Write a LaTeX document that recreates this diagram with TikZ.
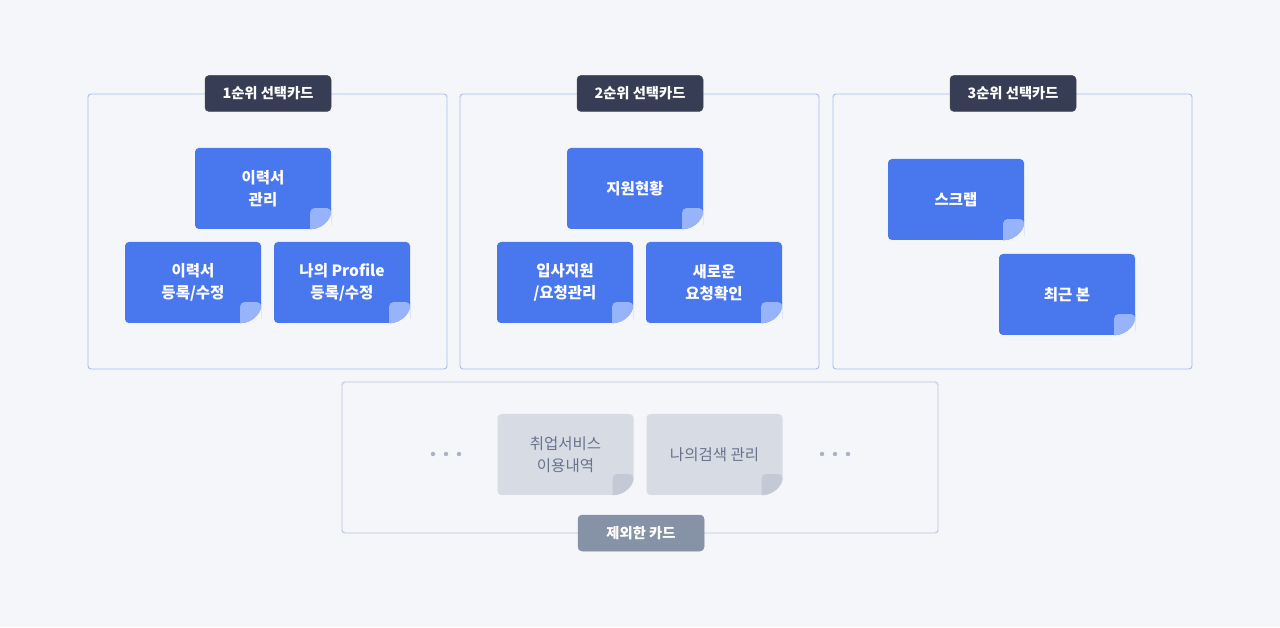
\documentclass[tikz,border=0pt]{standalone}
\usepackage{fontspec}
\setmainfont{Noto Sans CJK KR}
\usetikzlibrary{calc}
\definecolor{bgc}{HTML}{F4F6FA}
\definecolor{lineblue}{HTML}{A6BDF0}
\definecolor{linegray}{HTML}{B9C3D8}
\definecolor{tagdark}{HTML}{363D55}
\definecolor{taggray}{HTML}{8692A6}
\definecolor{cardblue}{HTML}{4877EE}
\definecolor{foldblue}{HTML}{97B4FB}
\definecolor{cardgray}{HTML}{D6DBE4}
\definecolor{foldgray}{HTML}{C4CAD5}
\definecolor{textgray}{HTML}{68738B}
\definecolor{dotgray}{HTML}{A9B3C5}
\tikzset{
  panel/.style={draw=lineblue,line width=0.9pt,rounded corners=3pt},
  tag/.style={fill=tagdark,draw=black!70,line width=0.5pt,rounded corners=4pt,text=white,
    minimum width=126pt,minimum height=36pt,inner sep=0pt,font=\fontsize{14.3}{17}\selectfont\bfseries},
  card/.style={fill=cardblue,rounded corners=4pt,text=white,align=center,
    minimum width=136pt,minimum height=81pt,inner sep=0pt,font=\fontsize{15.5}{22}\selectfont\bfseries},
  graycard/.style={card,fill=cardgray,text=textgray,font=\fontsize{15.5}{22}\selectfont},
  dot/.style={fill=dotgray,circle,inner sep=0pt,minimum size=4.5pt}
}
% folded corner of a card: node name, card colour, fold colour
\newcommand{\fold}[3]{%
  \fill[bgc] ($(#1.south east)+(-21,0)$) rectangle ($(#1.south east)+(0,21)$);
  \fill[#2] ($(#1.south east)+(-21,0)$) -- ($(#1.south east)+(-21,21)$) -- ($(#1.south east)+(0,21)$)
    arc[start angle=0,end angle=-90,radius=21pt] -- cycle;
  \fill[#3,rounded corners=4pt] ($(#1.south east)+(-21,0)$) -- ($(#1.south east)+(-21,21)$) -- ($(#1.south east)+(0,21)$)
    [sharp corners] arc[start angle=0,end angle=-90,radius=21pt] -- cycle;
}
\begin{document}
\begin{tikzpicture}[x=1pt,y=1pt]
\fill[bgc] (0,0) rectangle (1280,627);
\useasboundingbox (0,0) rectangle (1280,627);
% panels
\draw[panel] (88,258) rectangle (447,533);
\draw[panel] (460,258) rectangle (819,533);
\draw[panel] (833,258) rectangle (1192,533);
\draw[panel,draw=linegray] (342,94) rectangle (938,245);
\node[tag] (first) at (268,533.5) {1순위 선택카드};
\node[tag] (second) at (640,533.5) {2순위 선택카드};
\node[tag] (third) at (1013,533.5) {3순위 선택카드};
\node[tag,fill=taggray,draw=taggray] (rest) at (641,94) {제외한 카드};
% first choice
\node[card] (resume) at (263,438.5) {이력서\\관리};
\node[card] (resumeedit) at (193,344.5) {이력서\\등록/수정};
\node[card] (profile) at (342,344.5) {나의 Profile\\등록/수정};
% second choice
\node[card] (status) at (635,438.5) {지원현황};
\node[card] (apply) at (565,344.5) {입사지원\\/요청관리};
\node[card] (request) at (714,344.5) {새로운\\요청확인};
% third choice
\node[card] (scrap) at (956,427.5) {스크랩};
\node[card] (recent) at (1067,332.5) {최근 본};
% excluded
\node[graycard] (usage) at (565.5,172.5) {취업서비스\\이용내역};
\node[graycard] (search) at (714.5,172.5) {나의검색 관리};
\foreach \c in {resume,resumeedit,profile,status,apply,request,scrap,recent}
  \fold{\c}{cardblue}{foldblue};
\foreach \c in {usage,search}
  \fold{\c}{cardgray}{foldgray};
\foreach \x [count=\i] in {433,446,459,822,835,848}
  \node[dot] (d\i) at (\x,173) {};
\end{tikzpicture}
\end{document}
